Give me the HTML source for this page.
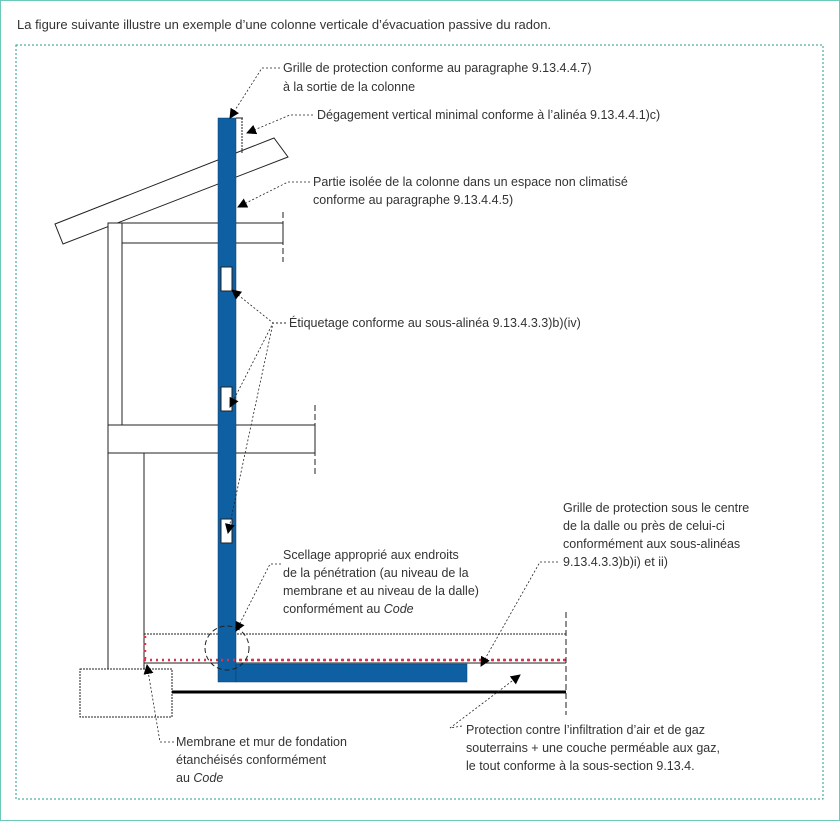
<!DOCTYPE html>
<html><head><meta charset="utf-8"><style>
html,body{margin:0;padding:0;background:#fff;}
svg{display:block;}
text{font-family:"Liberation Sans",sans-serif;font-size:12.5px;fill:#333;}
</style></head><body>
<svg width="840" height="821" viewBox="0 0 840 821" xmlns="http://www.w3.org/2000/svg">
<defs>
<marker id="ah" markerWidth="10" markerHeight="10" refX="9" refY="5" orient="auto" markerUnits="userSpaceOnUse">
<path d="M0,0 L10,5 L0,10 z" fill="#000"/></marker>
</defs>
<rect x="0.5" y="0.5" width="839" height="820" fill="none" stroke="#6cc9b8" stroke-width="1"/>
<text x="17" y="29" style="font-size:13px">La figure suivante illustre un exemple d’une colonne verticale d’évacuation passive du radon.</text>
<rect x="16" y="45" width="807" height="754" fill="none" stroke="#2a9a88" stroke-width="1" stroke-dasharray="2,2"/>

<!-- roof -->
<polygon points="55,224 274,138 288,157 63,244" fill="#fff" stroke="#222" stroke-width="1"/>
<!-- wall stud -->
<rect x="108" y="223" width="14" height="202" fill="#fff" stroke="#222"/>
<!-- ceiling joist -->
<rect x="122" y="223" width="161" height="20" fill="#fff" stroke="#222"/>
<line x1="283" y1="212" x2="283" y2="262" stroke="#222" stroke-dasharray="6,3"/>
<!-- floor joist -->
<rect x="108" y="425" width="207" height="28" fill="#fff" stroke="#222"/>
<line x1="315" y1="405" x2="315" y2="475" stroke="#222" stroke-dasharray="6,3"/>
<!-- foundation wall -->
<rect x="108" y="453" width="36" height="219" fill="#fff" stroke="#222"/>
<rect x="80" y="669" width="92" height="48" fill="#fff" stroke="#222" stroke-dasharray="2,1"/>
<!-- slab -->
<line x1="144" y1="634" x2="566" y2="634" stroke="#222" stroke-dasharray="2,1"/>
<line x1="144" y1="663" x2="566" y2="663" stroke="#222"/>
<line x1="144" y1="660" x2="566" y2="660" stroke="#e0304a" stroke-width="2.5" stroke-dasharray="2,4"/>
<line x1="145" y1="636" x2="145" y2="660" stroke="#e0304a" stroke-width="2.5" stroke-dasharray="2,5"/>
<line x1="172" y1="692" x2="566" y2="692" stroke="#000" stroke-width="3"/>
<line x1="566" y1="612" x2="566" y2="715" stroke="#222" stroke-dasharray="6,3"/>

<!-- pipe -->
<rect x="218" y="118" width="18" height="564" fill="#0f5fa3" stroke="#0a3d6b" stroke-width="0.5"/>
<rect x="236" y="664" width="231" height="18" fill="#0f5fa3" stroke="#0a3d6b" stroke-width="0.5"/>
<line x1="221" y1="660" x2="566" y2="660" stroke="#e0304a" stroke-width="2.5" stroke-dasharray="2,4"/>
<rect x="221" y="267" width="11" height="24" fill="#fff" stroke="#222"/>
<rect x="221" y="387" width="11" height="24" fill="#fff" stroke="#222"/>
<rect x="221" y="519" width="11" height="24" fill="#fff" stroke="#222"/>
<line x1="236" y1="118" x2="243" y2="118" stroke="#222"/>
<line x1="242" y1="118" x2="242" y2="153" stroke="#222" stroke-dasharray="2,1"/>
<circle cx="227" cy="648" r="22" fill="none" stroke="#222" stroke-dasharray="5,3"/>

<!-- leaders -->
<g fill="none" stroke="#222" stroke-width="0.8" stroke-dasharray="2,2">
<path d="M280,68 L262,68 L230,118" marker-end="url(#ah)"/>
<path d="M313,115 L290,115 L247,133" marker-end="url(#ah)"/>
<path d="M310,182 L288,182 L238,207" marker-end="url(#ah)"/>
<path d="M286,323 L273,323 L232,290" marker-end="url(#ah)"/>
<path d="M286,323 L273,323 L230,407" marker-end="url(#ah)"/>
<path d="M286,323 L273,323 L228,533" marker-end="url(#ah)"/>
<path d="M281,564 L270,564 L236,631" marker-end="url(#ah)"/>
<path d="M558,562 L540,562 L481,666" marker-end="url(#ah)"/>
<path d="M462,726 L450,728 L520,675" marker-end="url(#ah)"/>
<path d="M174,742 L160,742 L147,665" marker-end="url(#ah)"/>
</g>

<text x="283" y="72">Grille de protection conforme au paragraphe 9.13.4.4.7)</text>
<text x="283" y="91">à la sortie de la colonne</text>
<text x="317" y="119">Dégagement vertical minimal conforme à l’alinéa 9.13.4.4.1)c)</text>
<text x="313" y="186">Partie isolée de la colonne dans un espace non climatisé</text>
<text x="313" y="204">conforme au paragraphe 9.13.4.4.5)</text>
<text x="289" y="327">Étiquetage conforme au sous-alinéa 9.13.4.3.3)b)(iv)</text>
<text x="563" y="512">Grille de protection sous le centre</text>
<text x="563" y="530">de la dalle ou près de celui-ci</text>
<text x="563" y="548">conformément aux sous-alinéas</text>
<text x="563" y="566">9.13.4.3.3)b)i) et ii)</text>
<text x="283" y="559">Scellage approprié aux endroits</text>
<text x="283" y="577">de la pénétration (au niveau de la</text>
<text x="283" y="595">membrane et au niveau de la dalle)</text>
<text x="283" y="613">conformément au <tspan font-style="italic">Code</tspan></text>
<text x="466" y="734">Protection contre l’infiltration d’air et de gaz</text>
<text x="466" y="752">souterrains + une couche perméable aux gaz,</text>
<text x="466" y="770">le tout conforme à la sous-section 9.13.4.</text>
<text x="176" y="746">Membrane et mur de fondation</text>
<text x="176" y="764">étanchéisés conformément</text>
<text x="176" y="782">au <tspan font-style="italic">Code</tspan></text>
</svg>
</body></html>
